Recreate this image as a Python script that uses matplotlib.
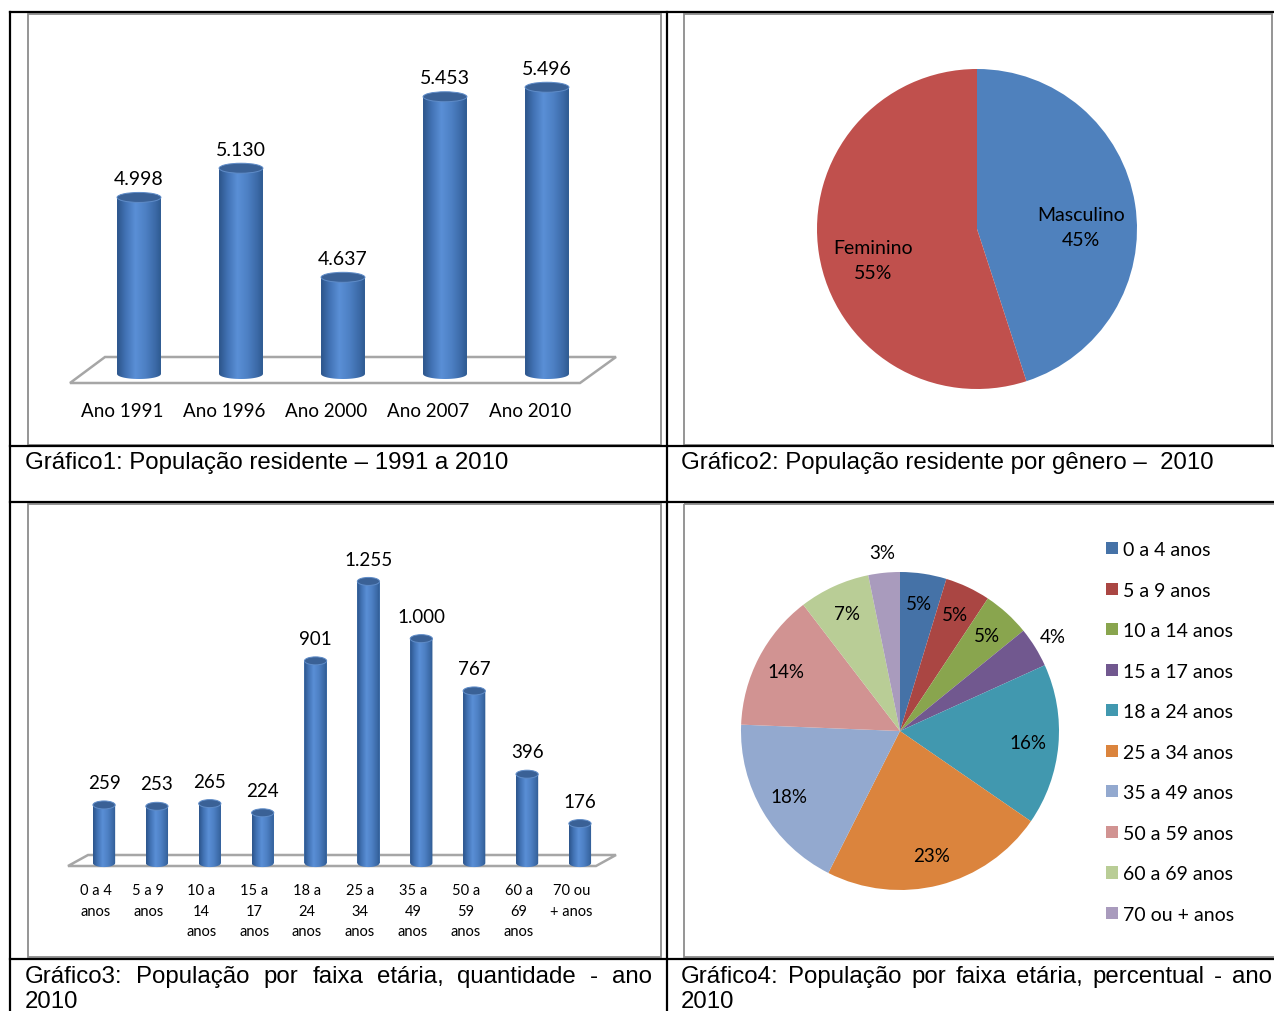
import matplotlib
matplotlib.use('Agg')
import matplotlib.pyplot as plt
import numpy as np
from matplotlib.patches import Ellipse, Rectangle, Polygon, PathPatch
from matplotlib.path import Path
from matplotlib.colors import LinearSegmentedColormap
from matplotlib.transforms import ScaledTranslation

# ---- data ----
anos = ['Ano 1991', 'Ano 1996', 'Ano 2000', 'Ano 2007', 'Ano 2010']
populacao = [4998, 5130, 4637, 5453, 5496]

generos = ['Masculino', 'Feminino']
genero_pct = [45, 55]
genero_cores = ['#4F81BD', '#C0504D']

faixas = ['0 a 4\nanos', '5 a 9\nanos', '10 a\n14\nanos', '15 a\n17\nanos',
          '18 a\n24\nanos', '25 a\n34\nanos', '35 a\n49\nanos', '50 a\n59\nanos',
          '60 a\n69\nanos', '70 ou\n+ anos']
faixas_legenda = ['0 a 4 anos', '5 a 9 anos', '10 a 14 anos', '15 a 17 anos',
                  '18 a 24 anos', '25 a 34 anos', '35 a 49 anos', '50 a 59 anos',
                  '60 a 69 anos', '70 ou + anos']
faixa_qtd = [259, 253, 265, 224, 901, 1255, 1000, 767, 396, 176]
faixa_cores = ['#4572A7', '#AA4643', '#89A54E', '#71588F', '#4198AF',
               '#DB843D', '#93A9CF', '#D19392', '#B9CD96', '#A99BBD']

legendas = ['Gráfico1: População residente – 1991 a 2010',
            'Gráfico2: População residente por gênero –  2010']
legenda3 = 'Gráfico3: População por faixa etária, quantidade - ano'
legenda4 = 'Gráfico4: População por faixa etária, percentual - ano'

CHART_FONT = 'Lato'
CAP_FONT = 'Liberation Sans'
CAP_SIZE = 17.3

W, H = 1274, 1012
fig = plt.figure(figsize=(W / 100, H / 100), dpi=100)

# background axes in pixel coordinates (table lines, frames, captions)
bg = fig.add_axes([0, 0, 1, 1])
bg.set_xlim(0, W)
bg.set_ylim(H, 0)
bg.axis('off')


def px_rect(x0, y0, x1, y1):
    return [x0 / W, 1 - y1 / H, (x1 - x0) / W, (y1 - y0) / H]


# chart frames (gray)
for x0, y0, x1, y1 in [(28, 15, 661, 446), (684, 15, 1272, 446),
                       (28, 505, 661, 958), (684, 505, 1290, 958)]:
    bg.add_patch(Rectangle((x0, y0), x1 - x0, y1 - y0, fill=False,
                           edgecolor='#8C8C8C', lw=1.3))

# table lines (black)
for y in [13, 447, 503, 960]:
    bg.plot([10, W], [y, y], color='black', lw=1.6)
for x in [10, 667]:
    bg.plot([x, x], [13, H], color='black', lw=1.6)

# 3D floors
floor_kw = dict(closed=True, facecolor='white', edgecolor='#A6A6A6', lw=1.8)
bg.add_patch(Polygon([(105, 358), (616, 358), (580, 384), (70, 384)], **floor_kw))
bg.add_patch(Polygon([(88, 856), (616, 856), (596, 867), (68, 867)], **floor_kw))

cyl_cmap = LinearSegmentedColormap.from_list(
    'cyl', [(0, '#2C548A'), (0.2, '#4273B5'), (0.42, '#5A8FD6'),
            (0.65, '#4D80C4'), (0.88, '#3B69A6'), (1, '#2E5A90')])
grad = np.linspace(0, 1, 256).reshape(1, -1)


def cylinders(ax, values, width, base, top_px):
    bars = ax.bar(range(len(values)), [v - base for v in values], bottom=base,
                  width=width, color='#4F81BD', zorder=2)
    y0, y1 = ax.get_ylim()
    ax_h = ax.get_position().height * H
    eh = top_px * (y1 - y0) / ax_h
    for b in bars:
        x0, w = b.get_x(), b.get_width()
        yb, yt = b.get_y(), b.get_y() + b.get_height()
        xc = x0 + w / 2
        t = np.linspace(np.pi, 2 * np.pi, 40)
        verts = [(x0, yt), (x0, yb)] + \
            [(xc + w / 2 * np.cos(a), yb + eh / 2 * np.sin(a)) for a in t] + \
            [(x0 + w, yt), (x0, yt)]
        clip = PathPatch(Path(verts), facecolor='none', edgecolor='none')
        ax.add_patch(clip)
        im = ax.imshow(grad, cmap=cyl_cmap, extent=[x0, x0 + w, yb - eh, yt],
                       aspect='auto', zorder=2.5, interpolation='bilinear')
        im.set_clip_path(clip)
        ax.add_patch(Ellipse((xc, yt), w, eh, facecolor='#3A6196',
                             edgecolor='#5F8CC8', lw=0.7, zorder=3))
    return bars


def fmt(v):
    return f'{v:,}'.replace(',', '.')


def shift_ticklabels(ax, dx_px):
    off = ScaledTranslation(dx_px / 100, 0, fig.dpi_scale_trans)
    for lbl in ax.get_xticklabels():
        lbl.set_transform(lbl.get_transform() + off)


def clean(ax):
    ax.set_yticks([])
    for s in ax.spines.values():
        s.set_visible(False)
    ax.patch.set_alpha(0)


# ---- Gráfico 1 ----
ax1 = fig.add_axes(px_rect(88, 40, 598, 400))
ax1.set_xlim(-0.5, 4.5)
ax1.set_ylim(4087, 5714)
cylinders(ax1, populacao, 0.43, 4200, 10)
ax1.set_xlim(-0.5, 4.5)
ax1.set_ylim(4087, 5714)
for i, v in enumerate(populacao):
    ax1.annotate(fmt(v), (i, v), xytext=(0, 7.5), textcoords='offset points',
                 ha='center', va='bottom', fontsize=14, family=CHART_FONT)
ax1.set_xticks(range(len(anos)))
ax1.set_xticklabels(anos, fontsize=13.5, family=CHART_FONT)
ax1.tick_params(axis='x', length=0, pad=2)
shift_ticklabels(ax1, -17)
clean(ax1)

# ---- Gráfico 2 ----
ax2 = fig.add_axes(px_rect(817, 70, 1137, 390))
w2, _ = ax2.pie(genero_pct, colors=genero_cores, startangle=90,
                counterclock=False, radius=1)
for w, nome, p in zip(w2, generos, genero_pct):
    ang = np.deg2rad((w.theta1 + w.theta2) / 2)
    ax2.text(0.66 * np.cos(ang), 0.66 * np.sin(ang) - 0.09, f'{nome}\n{p}%',
             ha='center', va='center', fontsize=14, family=CHART_FONT,
             linespacing=1.55)
ax2.set_xlim(-1, 1)
ax2.set_ylim(-1, 1)

# ---- Gráfico 3 ----
ax3 = fig.add_axes(px_rect(77.6, 540, 606.4, 880))
ax3.set_xlim(-0.5, 9.5)
ax3.set_ylim(-71, 1444)
cylinders(ax3, faixa_qtd, 0.42, 0, 8)
ax3.set_xlim(-0.5, 9.5)
ax3.set_ylim(-71, 1444)
for i, v in enumerate(faixa_qtd):
    ax3.annotate(fmt(v), (i, v), xytext=(0, 10), textcoords='offset points',
                 ha='center', va='bottom', fontsize=13.5, family=CHART_FONT)
ax3.set_xticks(range(len(faixas)))
ax3.set_xticklabels(faixas, fontsize=10.5, family=CHART_FONT, linespacing=1.6)
ax3.tick_params(axis='x', length=0, pad=3)
shift_ticklabels(ax3, -8.5)
clean(ax3)

# ---- Gráfico 4 ----
ax4 = fig.add_axes(px_rect(741, 573, 1059, 891))
w4, _ = ax4.pie(faixa_qtd, colors=faixa_cores, startangle=90,
                counterclock=False, radius=1)
total = sum(faixa_qtd)
for w, v in zip(w4, faixa_qtd):
    pct = 100 * v / total
    ang = np.deg2rad((w.theta1 + w.theta2) / 2)
    r = 1.13 if pct < 4.5 else 0.81
    ax4.text(r * np.cos(ang), r * np.sin(ang), f'{pct:.0f}%', ha='center',
             va='center', fontsize=13.5, family=CHART_FONT)
ax4.set_xlim(-1, 1)
ax4.set_ylim(-1, 1)
ax4.legend(w4, faixas_legenda, loc='upper left',
           bbox_to_anchor=(1106 / W, 1 - 542 / H), bbox_transform=fig.transFigure,
           frameon=False, borderpad=0, borderaxespad=0, handlelength=0.6,
           handleheight=0.6, handletextpad=0.25, labelspacing=1.21,
           prop={'family': CHART_FONT, 'size': 14})

# ---- captions ----
renderer = fig.canvas.get_renderer()


def justified(text, x0, x1, y):
    words = text.split()
    texts = [bg.text(0, y, wd, fontsize=CAP_SIZE, family=CAP_FONT, va='center')
             for wd in words]
    widths = [t.get_window_extent(renderer=renderer).width for t in texts]
    gap = (x1 - x0 - sum(widths)) / (len(words) - 1)
    x = x0
    for t, wd in zip(texts, widths):
        t.set_x(x)
        x += wd + gap


bg.text(25, 463, legendas[0], fontsize=CAP_SIZE, family=CAP_FONT, va='center')
bg.text(681, 463, legendas[1], fontsize=CAP_SIZE, family=CAP_FONT, va='center')
justified(legenda3, 25, 652, 977)
justified(legenda4, 681, 1272, 977)
bg.text(25, 1002, '2010', fontsize=CAP_SIZE, family=CAP_FONT, va='center')
bg.text(681, 1002, '2010', fontsize=CAP_SIZE, family=CAP_FONT, va='center')

fig.savefig('out.png', dpi=100)
